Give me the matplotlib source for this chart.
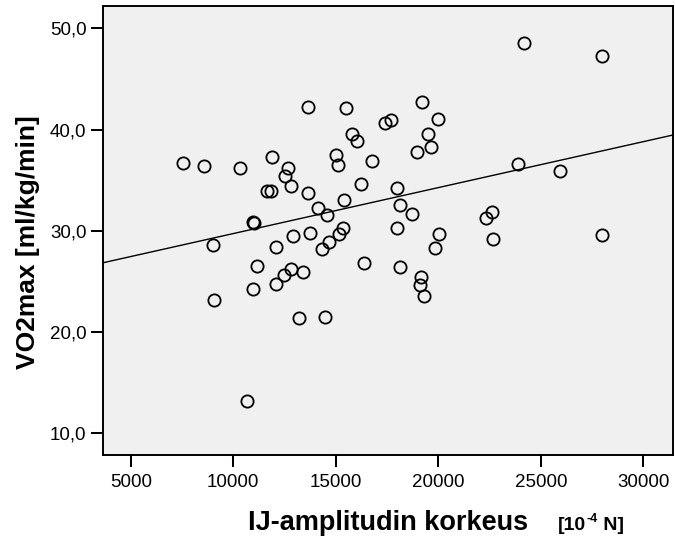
import matplotlib
matplotlib.use('Agg')
import matplotlib.pyplot as plt
from matplotlib.transforms import offset_copy
import numpy as np

plt.rcParams['font.family'] = ['Liberation Sans', 'DejaVu Sans']

# IJ-amplitude (10^-4 N) and VO2max (ml/kg/min)
ij_amp = [7561, 8556, 10341, 11902, 12654, 12537, 12815, 11629, 11824, 13659,
          13659, 15483, 17400, 17678, 15805, 16018, 15010, 15093, 16751, 16229,
          15385, 14116, 14556, 10946, 10990, 17971, 9024, 11171, 10976, 9059,
          10683, 12098, 12898, 13727, 15366, 15156, 14683, 14341, 12815, 12473,
          13415, 12083, 13190, 14459, 16361, 18130, 17990, 18150, 24195, 27970,
          19190, 20000, 19512, 19644, 18976, 23873, 25922, 18732, 20034, 22312,
          22605, 22683, 27970, 19839, 19156, 19107, 19317]
vo2max = [36.67, 36.40, 36.17, 37.29, 36.23, 35.44, 34.45, 33.96, 33.96, 33.76,
          42.20, 42.10, 40.68, 40.95, 39.53, 38.90, 37.49, 36.50, 36.86, 34.59,
          33.07, 32.28, 31.55, 30.89, 30.82, 34.25, 28.58, 26.54, 24.23, 23.14,
          13.22, 28.42, 29.48, 29.77, 30.30, 29.74, 28.91, 28.16, 26.28, 25.62,
          25.95, 24.76, 21.36, 21.53, 26.87, 32.54, 30.24, 26.44, 48.53, 47.31,
          42.70, 41.10, 39.56, 38.31, 37.78, 36.60, 35.90, 31.62, 29.74, 31.23,
          31.82, 29.20, 29.57, 28.26, 25.45, 24.63, 23.54]

xticks = [5000, 10000, 15000, 20000, 25000, 30000]
yticks = [10, 20, 30, 40, 50]
ytick_labels = ['10,0', '20,0', '30,0', '40,0', '50,0']

x = np.array(ij_amp, dtype=float)
y = np.array(vo2max, dtype=float)

fig = plt.figure(figsize=(6.75, 5.39), dpi=100)
ax = fig.add_axes([0.1519, 0.1558, 0.8452, 0.8336])
ax.set_facecolor('#f0f0f0')

ax.plot(x, y, 'o', ms=8.8, mfc='none', mec='black', mew=1.3)

# linear fit across the whole x range
xlim = (3625, 31448)
k, b = np.polyfit(x, y, 1)
xx = np.array(xlim)
ax.plot(xx, k * xx + b, color='black', lw=1.0)

ax.set_xlim(*xlim)
ax.set_ylim(7.85, 52.25)
ax.set_xticks(xticks)
ax.set_xticklabels([str(t) for t in xticks])
ax.set_yticks(yticks)
ax.set_yticklabels(ytick_labels)

for s in ax.spines.values():
    s.set_linewidth(1.4)
ax.tick_params(axis='both', direction='out', length=8.6, width=1.45,
               labelsize=13.5, colors='black')
ax.tick_params(axis='x', pad=5)
ax.tick_params(axis='y', pad=3)

fig.text(28 / 675, 1 - 242 / 539, 'VO2max [ml/kg/min]', rotation=90,
         ha='center', va='center', fontsize=19, fontweight='bold')
fig.text(528 / 675, 1 - 530 / 539, 'IJ-amplitudin korkeus', ha='right',
         va='baseline', fontsize=19.5, fontweight='bold')

# unit "[10^-4 N]" built from pieces so the exponent uses a plain hyphen
fig.canvas.draw()
r = fig.canvas.get_renderer()
t1 = fig.text(558 / 675, 1 - 530 / 539, '[10', ha='left', va='baseline',
              fontsize=14, fontweight='bold')
w1 = t1.get_window_extent(r).width * 72 / fig.dpi
t2 = fig.text(558 / 675, 1 - 530 / 539, '-4', ha='left', va='baseline',
              fontsize=9, fontweight='bold',
              transform=offset_copy(fig.transFigure, fig, x=w1 + 0.5, y=5.5,
                                    units='points'))
w2 = t2.get_window_extent(r).width * 72 / fig.dpi
fig.text(558 / 675, 1 - 530 / 539, ' N]', ha='left', va='baseline',
         fontsize=14, fontweight='bold',
         transform=offset_copy(fig.transFigure, fig, x=w1 + w2 + 0.5, y=0,
                               units='points'))

fig.savefig('out.png', dpi=100)
